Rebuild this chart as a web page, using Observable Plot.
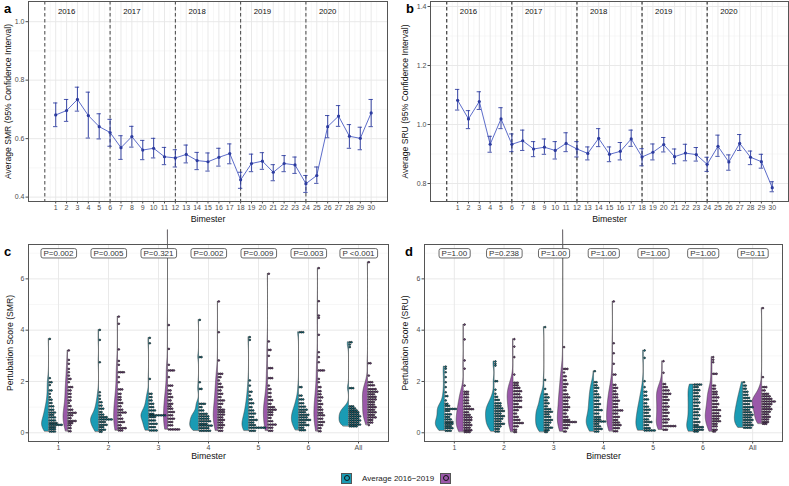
<!DOCTYPE html>
<html><head><meta charset="utf-8">
<script src="https://cdn.jsdelivr.net/npm/d3@7"></script>
<script src="https://cdn.jsdelivr.net/npm/@observablehq/plot@0.6"></script>
<style>
body{margin:0;background:#fff;font-family:"Liberation Sans",Arial,sans-serif;}
#root{position:relative;width:789px;height:486px;overflow:hidden;background:#fff;}
#root svg{position:absolute;overflow:visible;}
.tag{position:absolute;font-weight:bold;font-size:13px;line-height:13px;color:#000;}
#legend{position:absolute;top:473px;left:341px;height:10px;display:flex;align-items:center;font-size:8px;color:#222;}
.key{width:9px;height:9px;border:0.8px solid #555;display:flex;align-items:center;justify-content:center;}
.key span{width:4px;height:4px;border:1px solid #111;border-radius:50%;}
</style></head><body><div id="root"></div>
<script>
// ---------- data: panels a & b ----------
const bimesters = [1,2,3,4,5,6,7,8,9,10,11,12,13,14,15,16,17,18,19,20,21,22,23,24,25,26,27,28,29,30];
const years = ["2016","2017","2018","2019","2020"];
const yearStarts = [0,6,12,18,24];
const smrMean = [0.681,0.696,0.734,0.679,0.641,0.621,0.569,0.607,0.561,0.567,0.538,0.534,0.546,0.525,0.521,0.536,0.549,0.459,0.515,0.523,0.485,0.515,0.510,0.446,0.474,0.641,0.677,0.608,0.601,0.688];
const smrLow  = [0.641,0.659,0.694,0.602,0.599,0.574,0.529,0.571,0.528,0.534,0.511,0.503,0.517,0.494,0.489,0.506,0.514,0.430,0.487,0.495,0.456,0.487,0.481,0.416,0.447,0.603,0.642,0.567,0.562,0.641];
const smrHigh = [0.722,0.734,0.776,0.759,0.685,0.666,0.610,0.642,0.594,0.601,0.570,0.562,0.578,0.553,0.551,0.567,0.582,0.485,0.547,0.552,0.511,0.542,0.537,0.474,0.503,0.679,0.713,0.648,0.639,0.734];
const sruMean = [1.082,1.019,1.078,0.933,1.019,0.933,0.945,0.917,0.923,0.912,0.936,0.917,0.902,0.953,0.899,0.909,0.951,0.890,0.906,0.932,0.891,0.903,0.898,0.865,0.926,0.873,0.936,0.889,0.874,0.786];
const sruLow  = [1.049,0.986,1.051,0.906,0.986,0.908,0.912,0.891,0.899,0.883,0.908,0.890,0.880,0.925,0.874,0.880,0.926,0.860,0.880,0.907,0.867,0.877,0.876,0.841,0.892,0.845,0.912,0.864,0.852,0.772];
const sruHigh = [1.119,1.047,1.111,0.960,1.057,0.968,0.981,0.942,0.951,0.942,0.972,0.942,0.924,0.986,0.924,0.939,0.981,0.918,0.934,0.956,0.917,0.933,0.922,0.889,0.964,0.897,0.966,0.910,0.899,0.806];

// ---------- data: panels c & d (dot rows: [score, count]) ----------
const groupLabels = ["1","2","3","4","5","6","All"];
const smrPLabels = ["P=0.002","P=0.005","P=0.321","P=0.002","P=0.009","P=0.003","P <0.001"];
const sruPLabels = ["P=1.00","P=0.238","P=1.00","P=1.00","P=1.00","P=1.00","P=0.11"];
const smrBaseline = [
 [[3.66,1],[2.13,1],[1.97,2],[1.86,1],[1.65,2],[1.52,1],[1.39,1],[1.29,2],[1.16,2],[1.03,3],[0.9,3],[0.79,4],[0.7,3],[0.6,4],[0.48,4],[0.38,5],[0.31,8],[0.22,4],[0.14,4],[0.05,4]],
 [[4.01,1],[3.62,1],[2.75,1],[1.58,1],[1.45,1],[1.32,1],[1.19,2],[1.06,2],[0.94,3],[0.81,2],[0.71,3],[0.61,5],[0.52,8],[0.42,4],[0.31,5],[0.22,3],[0.12,4],[0.04,2]],
 [[3.7,1],[3.49,1],[2.1,1],[1.52,2],[1.39,2],[1.26,2],[1.13,3],[1.0,3],[0.87,4],[0.74,3],[0.68,10],[0.61,4],[0.48,4],[0.35,5],[0.22,4],[0.09,5]],
 [[4.4,1],[2.95,2],[1.97,1],[1.71,2],[1.13,4],[1.0,2],[0.87,3],[0.74,5],[0.64,6],[0.55,6],[0.45,7],[0.35,5],[0.28,8],[0.18,6],[0.08,7]],
 [[3.73,1],[3.62,1],[2.04,1],[1.84,1],[1.6,2],[1.45,1],[1.3,2],[1.15,3],[1.0,2],[0.87,3],[0.75,4],[0.62,3],[0.5,5],[0.4,3],[0.3,4],[0.2,10],[0.08,4]],
 [[3.92,3],[1.78,2],[1.45,2],[1.3,3],[1.15,3],[1.02,4],[0.9,5],[0.8,4],[0.7,6],[0.6,5],[0.5,7],[0.4,4],[0.3,6],[0.2,3],[0.1,4]],
 [[3.53,2],[3.44,1],[3.34,1],[1.74,3],[1.03,3],[0.95,4],[0.87,5],[0.8,6],[0.72,6],[0.64,7],[0.56,6],[0.48,7],[0.4,6],[0.32,7],[0.25,5]]
];
const smr2020 = [
 [[3.21,1],[2.84,1],[2.69,1],[2.49,1],[2.36,1],[2.23,1],[2.1,2],[1.97,1],[1.78,3],[1.65,2],[1.52,2],[1.39,2],[1.26,2],[1.16,1],[1.04,2],[0.9,3],[0.78,5],[0.68,3],[0.57,2],[0.46,5],[0.38,3],[0.29,2],[0.18,2],[0.06,2]],
 [[4.53,1],[4.25,1],[3.25,1],[2.8,1],[2.65,1],[2.36,4],[2.17,1],[1.97,1],[1.69,3],[1.52,2],[1.39,2],[1.29,2],[1.16,3],[1.03,2],[0.9,3],[0.79,5],[0.68,2],[0.55,3],[0.42,4],[0.29,2],[0.18,5],[0.09,3]],
 [[7.9,1],[4.2,1],[3.27,1],[2.65,1],[2.43,4],[2.17,1],[1.84,3],[1.65,2],[1.52,2],[1.39,3],[1.26,2],[1.13,3],[1.03,2],[0.94,3],[0.81,4],[0.68,3],[0.55,4],[0.42,3],[0.29,3],[0.13,7]],
 [[5.12,1],[3.92,1],[2.82,1],[2.3,3],[2.17,2],[2.04,1],[1.91,2],[1.78,3],[1.65,2],[1.52,3],[1.39,2],[1.26,4],[1.13,3],[1.0,2],[0.9,4],[0.81,4],[0.71,4],[0.6,3],[0.5,4],[0.4,3],[0.3,4],[0.2,3],[0.08,3]],
 [[6.2,1],[3.56,1],[3.23,2],[3.0,1],[2.52,3],[2.13,3],[1.84,1],[1.7,2],[1.55,2],[1.4,2],[1.27,3],[1.13,2],[1.0,4],[0.9,5],[0.8,3],[0.7,3],[0.58,2],[0.45,3],[0.32,5],[0.2,3],[0.08,3]],
 [[6.42,1],[5.13,1],[4.57,1],[4.48,1],[3.82,1],[3.14,1],[2.95,1],[2.75,1],[2.43,4],[2.1,1],[1.97,1],[1.78,2],[1.62,2],[1.5,2],[1.38,3],[1.25,2],[1.12,3],[1.0,2],[0.9,3],[0.78,3],[0.68,4],[0.55,3],[0.42,4],[0.3,3],[0.18,2],[0.06,2]],
 [[6.65,1],[2.71,2],[2.23,1],[1.97,3],[1.85,4],[1.7,5],[1.6,6],[1.5,4],[1.4,5],[1.3,5],[1.2,4],[1.1,4],[1.0,5],[0.9,4],[0.8,5],[0.7,4],[0.6,5],[0.5,3],[0.4,3],[0.3,1]]
];
const sruBaseline = [
 [[2.58,1],[2.5,1],[2.36,1],[2.17,1],[1.97,1],[1.78,1],[1.58,1],[1.43,2],[1.26,1],[1.13,2],[1.05,3],[0.93,7],[0.85,3],[0.72,4],[0.62,3],[0.52,4],[0.42,5],[0.35,5],[0.26,4],[0.18,5],[0.08,4]],
 [[2.78,1],[2.69,1],[2.62,1],[2.01,2],[1.68,1],[1.52,1],[1.4,2],[1.28,3],[1.15,4],[1.05,4],[0.95,5],[0.85,6],[0.75,4],[0.65,6],[0.55,5],[0.45,4],[0.35,6],[0.25,4],[0.15,3],[0.05,3]],
 [[4.12,1],[2.06,1],[1.71,1],[1.5,2],[1.38,3],[1.26,2],[1.15,3],[1.03,2],[0.92,4],[0.82,5],[0.72,3],[0.62,4],[0.5,5],[0.4,4],[0.3,3],[0.2,5],[0.1,3],[0.03,2]],
 [[2.4,1],[1.97,2],[1.85,2],[1.75,3],[1.62,2],[1.5,3],[1.38,4],[1.25,3],[1.12,4],[1.0,3],[0.88,5],[0.75,3],[0.62,4],[0.52,4],[0.44,7],[0.35,3],[0.25,4],[0.15,5],[0.05,3]],
 [[3.21,1],[2.92,1],[2.01,1],[1.78,1],[1.6,2],[1.45,2],[1.3,3],[1.15,2],[1.02,3],[0.9,4],[0.78,3],[0.65,4],[0.52,3],[0.42,5],[0.3,3],[0.18,4],[0.09,7]],
 [[1.88,5],[1.78,3],[1.66,4],[1.55,3],[1.42,4],[1.3,3],[1.18,4],[1.05,3],[0.92,4],[0.8,3],[0.68,4],[0.55,3],[0.42,4],[0.3,3],[0.22,6],[0.12,6],[0.05,3]],
 [[1.97,1],[1.84,2],[1.72,2],[1.6,3],[1.48,3],[1.36,4],[1.24,5],[1.12,4],[1.0,6],[0.9,4],[0.8,5],[0.7,6],[0.6,5],[0.5,6],[0.4,5],[0.3,6],[0.2,5]]
];
const sru2020 = [
 [[4.22,1],[3.64,1],[2.82,1],[2.5,1],[1.84,1],[1.6,3],[1.5,3],[1.38,3],[1.26,3],[1.15,3],[1.03,4],[0.92,6],[0.8,3],[0.7,4],[0.6,5],[0.5,5],[0.4,4],[0.3,5],[0.2,4],[0.1,5],[0.03,4]],
 [[3.65,1],[3.36,1],[2.95,1],[2.27,1],[1.95,3],[1.85,3],[1.75,4],[1.62,5],[1.5,4],[1.38,5],[1.25,5],[1.12,3],[1.0,5],[0.88,3],[0.75,2],[0.62,3],[0.5,4],[0.38,6],[0.25,3],[0.12,2],[0.03,2]],
 [[7.9,1],[3.34,1],[2.49,3],[2.35,1],[2.2,2],[2.05,2],[1.9,3],[1.78,2],[1.65,2],[1.5,3],[1.38,4],[1.25,3],[1.12,3],[1.0,4],[0.88,3],[0.75,2],[0.62,3],[0.5,4],[0.42,8],[0.3,4],[0.18,3],[0.05,2]],
 [[5.12,1],[3.49,1],[3.1,1],[2.69,1],[2.27,2],[1.87,2],[1.75,3],[1.62,2],[1.5,3],[1.38,3],[1.25,4],[1.12,3],[1.0,3],[0.87,6],[0.75,3],[0.62,4],[0.5,3],[0.4,4],[0.3,5],[0.18,4],[0.06,3]],
 [[2.79,1],[2.34,1],[1.9,2],[1.78,3],[1.65,4],[1.52,5],[1.4,3],[1.28,4],[1.15,3],[1.02,4],[0.9,3],[0.78,4],[0.65,3],[0.52,4],[0.4,3],[0.26,8],[0.12,3]],
 [[2.95,1],[2.85,1],[2.75,1],[2.3,3],[1.84,2],[1.72,2],[1.6,3],[1.5,3],[1.38,4],[1.25,3],[1.12,4],[1.0,3],[0.88,5],[0.76,4],[0.65,5],[0.55,4],[0.45,5],[0.35,3],[0.25,3],[0.12,3],[0.05,2]],
 [[4.86,1],[2.17,1],[1.78,3],[1.65,2],[1.52,4],[1.42,5],[1.32,6],[1.22,8],[1.12,6],[1.02,5],[0.92,6],[0.82,5],[0.72,4],[0.62,5],[0.52,4],[0.42,4],[0.35,3]]
];

// ---------- styling ----------
const FONT = "Liberation Sans, Arial, sans-serif";
const BLUE_LINE = "#4b5cc4", BLUE = "#2c3b9f";
const TEAL = "#1a9bb4", PURPLE = "#9a58a9";
const GRID = "#e6e6e6", GRID_MINOR = "#f2f2f2", AXIS = "#4d4d4d";

const root = document.getElementById("root");

function seriesPlot({mean, lo, hi, yDomain, yMajor, title, width, ml, mr, titleDx, dashColor}) {
  const rows = bimesters.map((b, i) => ({b, m: mean[i], lo: lo[i], hi: hi[i]}));
  const xMinor = bimesters.map(b => b - 0.5).concat([30.5]);
  const step = yMajor[1] - yMajor[0];
  const yMinor = yMajor.map(v => v + step / 2).filter(v => v < yDomain[1]);
  return Plot.plot({
    width, height: 226, marginTop: 1, marginBottom: 25, marginLeft: ml, marginRight: mr,
    style: {fontFamily: FONT, background: "transparent", overflow: "visible"},
    x: {domain: [-1.5, 31.5]},
    y: {domain: yDomain},
    marks: [
      Plot.ruleX(xMinor, {stroke: GRID_MINOR, strokeWidth: 0.6}),
      Plot.ruleY(yMinor, {stroke: GRID_MINOR, strokeWidth: 0.6}),
      Plot.ruleX(bimesters, {stroke: GRID, strokeWidth: 0.9}),
      Plot.ruleY(yMajor, {stroke: GRID, strokeWidth: 0.9}),
      Plot.ruleX(yearStarts, {stroke: dashColor, strokeWidth: 1, strokeDasharray: "3.5,2.5"}),
      Plot.text(years, {x: (d, i) => yearStarts[i] + 2, frameAnchor: "top", dy: 10, lineAnchor: "middle", fontSize: 7.8, fill: "#111"}),
      Plot.line(rows, {x: "b", y: "m", stroke: BLUE_LINE, strokeWidth: 0.9}),
      Plot.ruleX(rows, {x: "b", y1: "lo", y2: "hi", stroke: BLUE, strokeWidth: 1.1, strokeOpacity: 0.85}),
      Plot.ruleY(rows, {y: "lo", x1: d => d.b - 0.2, x2: d => d.b + 0.2, stroke: BLUE, strokeWidth: 1, strokeOpacity: 0.85}),
      Plot.ruleY(rows, {y: "hi", x1: d => d.b - 0.2, x2: d => d.b + 0.2, stroke: BLUE, strokeWidth: 1, strokeOpacity: 0.85}),
      Plot.dot(rows, {x: "b", y: "m", r: 1.6, fill: BLUE}),
      Plot.axisX({ticks: bimesters, tickSize: 2.5, tickPadding: 1.5, fontSize: 7, color: AXIS, label: null}),
      Plot.axisY({ticks: yMajor, tickFormat: d3.format(".1f"), tickSize: 2.5, tickPadding: 1.5, fontSize: 7, color: AXIS, label: null}),
      Plot.frame({stroke: "#555", strokeWidth: 1}),
      Plot.text([title], {frameAnchor: "left", rotate: -90, dx: titleDx, textAnchor: "middle", lineAnchor: "middle", fontSize: 8.6, fill: "#111"}),
      Plot.text(["Bimester"], {frameAnchor: "bottom", dy: 18, textAnchor: "middle", lineAnchor: "middle", fontSize: 8.8, fill: "#111"})
    ]
  });
}

function expand(rows) {
  const v = [];
  rows.forEach(([y, c]) => { for (let k = 0; k < c; k++) v.push(y); });
  return v.sort(d3.ascending);
}
function kde(v) {
  const n = v.length;
  const sd = d3.deviation(v);
  const iqr = d3.quantileSorted(v, 0.75) - d3.quantileSorted(v, 0.25);
  let s = Math.min(sd, iqr / 1.34);
  if (!(s > 0)) s = sd;
  const h = 0.9 * s * Math.pow(n, -0.2);
  const lo = v[0], hi = v[n - 1];
  const out = [];
  const N = 200;
  for (let i = 0; i <= N; i++) {
    const y = lo + (hi - lo) * i / N;
    let d = 0;
    for (const x of v) { const u = (y - x) / h; d += Math.exp(-0.5 * u * u); }
    out.push({y, d: d / (n * h * Math.sqrt(2 * Math.PI))});
  }
  return out;
}

function violinPlot({base, cur, plabels, title, width, ml, mr, titleDx}) {
  const OFF = 0.19, DOT = 0.034;
  const groups = [];
  base.forEach((rows, i) => groups.push({rows, cx: i + 1 - OFF, key: "b" + i, grp: "base"}));
  cur.forEach((rows, i) => groups.push({rows, cx: i + 1 + OFF, key: "c" + i, grp: "cur"}));
  let maxD = 0;
  groups.forEach(g => { g.dens = kde(expand(g.rows)); maxD = Math.max(maxD, d3.max(g.dens, d => d.d)); });
  const K = 0.19 / maxD;
  const viol = {base: [], cur: []}, dots = {base: [], cur: []};
  groups.forEach(g => {
    g.dens.forEach(p => viol[g.grp].push({key: g.key, y: p.y, x1: g.cx - p.d * K, x2: g.cx}));
    g.rows.forEach(([y, c]) => { for (let k = 0; k < c; k++) dots[g.grp].push({x: g.cx + DOT * (k + 0.5), y}); });
  });
  const ticks = [1, 2, 3, 4, 5, 6, 7];
  return Plot.plot({
    width, height: 236, marginTop: 14, marginBottom: 25, marginLeft: ml, marginRight: mr,
    style: {fontFamily: FONT, background: "transparent", overflow: "visible"},
    x: {domain: [0.4, 7.6]},
    y: {domain: [-0.34, 7.34]},
    marks: [
      Plot.ruleY([1, 3, 5, 7], {stroke: GRID_MINOR, strokeWidth: 0.6}),
      Plot.ruleY([0, 2, 4, 6], {stroke: GRID, strokeWidth: 0.9}),
      Plot.ruleX(ticks, {stroke: GRID, strokeWidth: 0.9}),
      Plot.areaX(viol.base, {y: "y", x1: "x1", x2: "x2", z: "key", fill: TEAL, stroke: "#333", strokeWidth: 0.5}),
      Plot.areaX(viol.cur, {y: "y", x1: "x1", x2: "x2", z: "key", fill: PURPLE, stroke: "#333", strokeWidth: 0.5}),
      Plot.dot(dots.base, {x: "x", y: "y", r: 0.85, fill: TEAL, stroke: "#000", strokeWidth: 0.65, clip: true}),
      Plot.dot(dots.cur, {x: "x", y: "y", r: 0.85, fill: PURPLE, stroke: "#000", strokeWidth: 0.65, clip: true}),
      Plot.text(plabels, {x: (d, i) => i + 1, y: 7, fontSize: 8, fill: "#333", lineAnchor: "middle"}),
      Plot.axisX({ticks, tickFormat: d => groupLabels[d - 1], tickSize: 2.5, tickPadding: 1, fontSize: 7, color: AXIS, label: null}),
      Plot.axisY({ticks: [0, 2, 4, 6], tickFormat: d3.format("d"), tickSize: 2.5, tickPadding: 1.5, fontSize: 7, color: AXIS, label: null}),
      Plot.frame({stroke: "#555", strokeWidth: 1}),
      Plot.text([title], {frameAnchor: "left", rotate: -90, dx: titleDx, textAnchor: "middle", lineAnchor: "middle", fontSize: 8.6, fill: "#111"}),
      Plot.text(["Bimester"], {frameAnchor: "bottom", dy: 15, textAnchor: "middle", lineAnchor: "middle", fontSize: 8.8, fill: "#111"})
    ]
  });
}

function place(svg, left, top) {
  svg.style.left = left + "px";
  svg.style.top = top + "px";
  root.appendChild(svg);
  return svg;
}
function boxLabels(svg, labels) {
  svg.querySelectorAll("text").forEach(t => {
    if (!labels.includes(t.textContent)) return;
    const b = t.getBBox();
    const r = document.createElementNS("http://www.w3.org/2000/svg", "rect");
    r.setAttribute("x", b.x - 2.5); r.setAttribute("y", b.y - 0.2);
    r.setAttribute("width", b.width + 5); r.setAttribute("height", b.height + 0.4);
    r.setAttribute("rx", 2); r.setAttribute("fill", "#fff");
    r.setAttribute("stroke", "#444"); r.setAttribute("stroke-width", 0.8);
    if (t.getAttribute("transform")) r.setAttribute("transform", t.getAttribute("transform"));
    t.parentNode.insertBefore(r, t);
  });
}

place(seriesPlot({mean: smrMean, lo: smrLow, hi: smrHigh, yDomain: [0.385, 1.069], yMajor: [0.4, 0.6, 0.8, 1.0],
  title: "Average SMR (95% Confidence Interval)", width: 394, ml: 28, mr: 7, titleDx: -20.5, dashColor: "#444"}), 0, 0);
place(seriesPlot({mean: sruMean, lo: sruLow, hi: sruHigh, yDomain: [0.739, 1.417], yMajor: [0.8, 1.0, 1.2, 1.4],
  title: "Average SRU (95% Confidence Interval)", width: 395, ml: 36, mr: 1, titleDx: -25, dashColor: "#111"}), 394, 0);
const pc = place(violinPlot({base: smrBaseline, cur: smr2020, plabels: smrPLabels, title: "Pertubation Score (SMR)",
  width: 394, ml: 28, mr: 6, titleDx: -18}), 0, 230);
const pd = place(violinPlot({base: sruBaseline, cur: sru2020, plabels: sruPLabels, title: "Pertubation Score (SRU)",
  width: 395, ml: 30, mr: 7, titleDx: -19}), 394, 230);
boxLabels(pc, smrPLabels); boxLabels(pd, sruPLabels);

[["a", 4, 2], ["b", 406, 2], ["c", 4, 245], ["d", 405, 245]].forEach(([s, x, y]) => {
  const d = document.createElement("div");
  d.className = "tag"; d.textContent = s; d.style.left = x + "px"; d.style.top = y + "px";
  root.appendChild(d);
});

const legend = document.createElement("div");
legend.id = "legend";
legend.innerHTML = `<div class="key" style="background:${TEAL}"><span></span></div>
<div style="margin:0 6px 0 10px">Average 2016\u22122019</div>
<div class="key" style="background:${PURPLE}"><span></span></div>`;
root.appendChild(legend);
</script></body></html>
